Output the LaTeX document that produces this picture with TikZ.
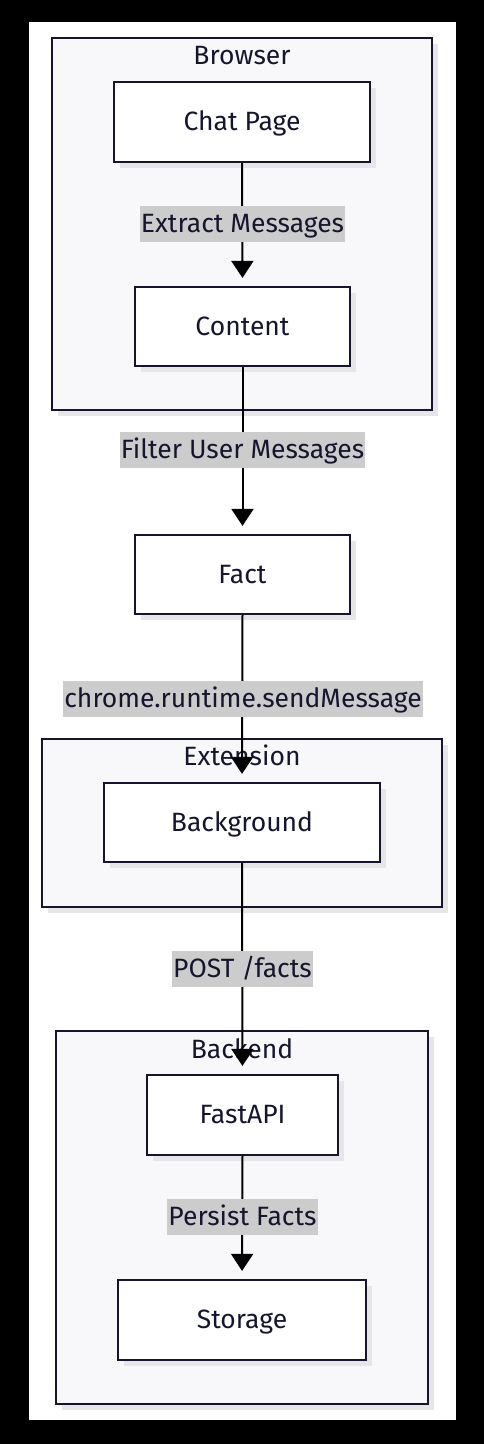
\documentclass[tikz,border=0pt]{standalone}
\usepackage{fontspec}
\setmainfont{Fira Sans}
\usetikzlibrary{arrows.meta,shadows}
\definecolor{ink}{HTML}{15152E}
\definecolor{clfill}{HTML}{F8F8FA}
\definecolor{shd}{HTML}{E6E6E8}
\definecolor{lblgray}{HTML}{CCCCCC}
\begin{document}
\begin{tikzpicture}[x=1pt,y=-1pt,
  every node/.style={font=\fontsize{26.5}{30}\selectfont, text=ink, text height=19pt, text depth=2pt},
  cluster/.style={draw=ink, line width=2.2pt, fill=clfill, inner sep=0pt,
    drop shadow={shadow xshift=6pt, shadow yshift=-6pt, fill=shd, opacity=1}},
  box/.style={draw=ink, line width=2.2pt, fill=white, inner sep=0pt,
    drop shadow={shadow xshift=6pt, shadow yshift=-6pt, fill=shd, opacity=1}},
  title/.style={inner sep=0pt},
  lbl/.style={fill=lblgray, inner xsep=1pt, inner ysep=0pt, minimum height=36pt},
  flow/.style={line width=2pt, draw=black, -{Triangle[width=22pt,length=17pt]}, shorten >=8pt}
]
\fill[black] (0,0) rectangle (484,1444);
\fill[white] (29,22) rectangle (456,1420);
\useasboundingbox (0,0) rectangle (484,1444);

% clusters
\node[cluster, minimum width=380pt, minimum height=372pt] (browser) at (242,224) {};
\node[title] (browserT) at (242,56) {Browser};
\node[cluster, minimum width=400pt, minimum height=168pt] (extension) at (242,823) {};
\node[title] (extensionT) at (242,757) {Extension};
\node[cluster, minimum width=372pt, minimum height=373pt] (backend) at (242,1217.5) {};
\node[title] (backendT) at (242,1050) {Backend};

% nodes
\node[box, minimum width=256pt, minimum height=80pt] (chat) at (242,122) {Chat Page};
\node[box, minimum width=215pt, minimum height=79pt] (content) at (242.5,326.5) {Content};
\node[box, minimum width=215pt, minimum height=79pt] (fact) at (242.5,574.5) {Fact};
\node[box, minimum width=276pt, minimum height=79pt] (bg) at (242,822.5) {Background};
\node[box, minimum width=191pt, minimum height=80pt] (fastapi) at (242.5,1115) {FastAPI};
\node[box, minimum width=248pt, minimum height=80pt] (storage) at (242,1320) {Storage};

% edges
\draw[flow] (chat.south) -- (content.north);
\draw[flow] (content.south) -- (fact.north);
\draw[flow] (fact.south) -- (bg.north);
\draw[flow] (bg.south) -- (fastapi.north);
\draw[flow] (fastapi.south) -- (storage.north);

% labels
\node[lbl] (l1) at (242.5,224) {Extract Messages};
\node[lbl] (l2) at (242.5,450) {Filter User Messages};
\node[lbl] (l3) at (243,699) {chrome.runtime.sendMessage};
\node[lbl] (l4) at (242.5,969) {POST /facts};
\node[lbl] (l5) at (242.5,1217) {Persist Facts};
\end{tikzpicture}
\end{document}
